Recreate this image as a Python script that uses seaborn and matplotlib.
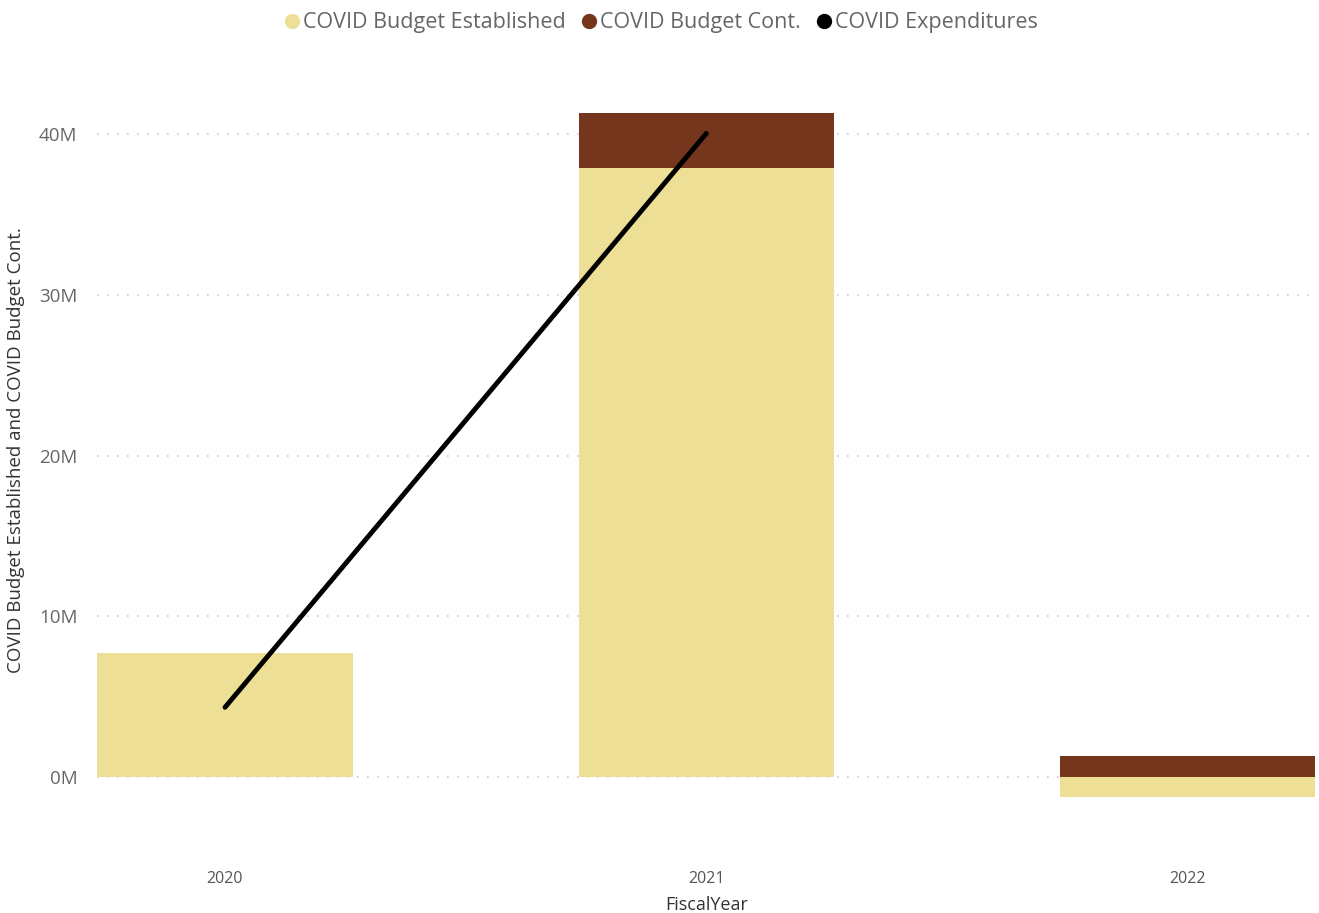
import pandas as pd
import seaborn as sns
import matplotlib.pyplot as plt
from matplotlib.lines import Line2D
from matplotlib.ticker import FuncFormatter, MultipleLocator

# Data (values in millions)
years = ["2020", "2021", "2022"]
budget_established = [7.75, 37.9, -1.25]
budget_cont = [0.0, 3.4, 1.3]
exp_years = ["2020", "2021"]
expenditures = [4.35, 40.05]

col_est = "#EDE096"
col_cont = "#76361E"
col_exp = "#000000"

sns.set_theme(style="white")
plt.rcParams["font.family"] = ["Open Sans", "DejaVu Sans"]

df = pd.DataFrame({"year": years, "est": budget_established, "cont": budget_cont})
# positive parts stack on top of positive established values
df["cont_bottom"] = df["est"].clip(lower=0)

fig = plt.figure(figsize=(13.19, 9.13), dpi=100)
ax = fig.add_axes([0.0735, 0.08, 0.924, 0.854])

sns.barplot(data=df, x="year", y="est", color=col_est, width=0.53,
            saturation=1, ax=ax, linewidth=0)
sns.barplot(data=df, x="year", y="cont", color=col_cont, width=0.53,
            saturation=1, ax=ax, linewidth=0, bottom=df["cont_bottom"])

exp_pos = [years.index(y) for y in exp_years]
sns.lineplot(x=exp_pos, y=expenditures, color=col_exp, linewidth=3.5, ax=ax,
             solid_capstyle="round")

ax.set_xlim(-0.266, 2.266)
ax.set_ylim(-3.9, 44.6)
ax.yaxis.set_major_locator(MultipleLocator(10))
ax.yaxis.set_major_formatter(FuncFormatter(lambda v, p: f"{v:.0f}M"))
ax.grid(axis="y", color="#CCCCCC", linestyle=(0, (1, 5)), linewidth=1.2)
ax.set_axisbelow(True)
for s in ax.spines.values():
    s.set_visible(False)

ax.tick_params(axis="y", labelsize=13.5, labelcolor="#666666", length=0, pad=14)
ax.tick_params(axis="x", labelsize=11.5, labelcolor="#555555", length=0, pad=22)
ax.set_xlabel("FiscalYear", fontsize=13, color="#333333", labelpad=7)
ax.set_ylabel("COVID Budget Established and COVID Budget Cont.", fontsize=13.5,
              color="#333333", labelpad=10)

handles = [
    Line2D([], [], marker="o", linestyle="", color=col_est, markersize=10),
    Line2D([], [], marker="o", linestyle="", color=col_cont, markersize=10),
    Line2D([], [], marker="o", linestyle="", color=col_exp, markersize=10),
]
labels = ["COVID Budget Established", "COVID Budget Cont.", "COVID Expenditures"]
leg = fig.legend(handles, labels, loc="upper center", bbox_to_anchor=(0.5, 1.008),
                 ncol=3, frameon=False, fontsize=15.5, handletextpad=0.0,
                 columnspacing=0.6, handlelength=1.0)
for t in leg.get_texts():
    t.set_color("#666666")

fig.savefig("out.png", dpi=100)
